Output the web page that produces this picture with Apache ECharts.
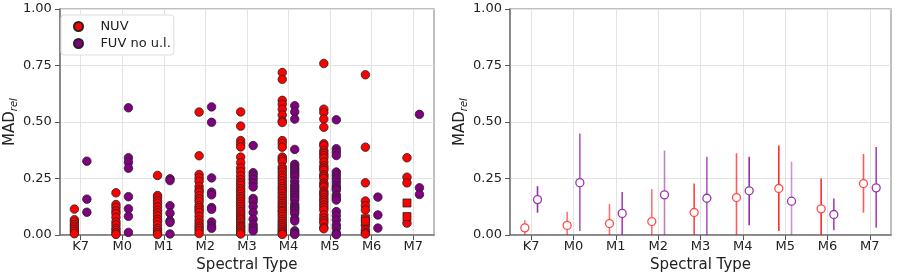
<!DOCTYPE html>
<html>
<head>
<meta charset="utf-8">
<script src="https://cdn.jsdelivr.net/npm/echarts@6/dist/echarts.min.js"></script>
<style>
html,body{margin:0;padding:0;background:#fff;}
#chart{width:900px;height:278px;}
</style>
</head>
<body>
<div id="chart"></div>
<script>
// ---------- DATA ----------
const categories = ['K7','M0','M1','M2','M3','M4','M5','M6','M7'];
const yTicks = [0, 0.25, 0.5, 0.75, 1.0];

// Left panel: individual MAD_rel values per spectral type
const nuv_K7 = [0.115,0.068,0.058,0.047,0.036,0.026,0.016,0.006];
const nuv_M0 = [0.187,0.135,0.122,0.107,0.095,0.078,0.058,0.045,0.03,0.02,0.01,0.003];
const nuv_M1 = [0.264,0.175,0.165,0.152,0.14,0.125,0.11,0.098,0.085,0.07,0.06,0.045,0.03,0.02,0.01,0.003];
const nuv_M2 = [0.544,0.351,0.268,0.253,0.238,0.215,0.2,0.19,0.174,0.16,0.148,0.13,0.121,0.11,0.1,0.083,0.067,0.053,0.04,0.03,0.019,0.007];
const nuv_M3 = [0.545,0.482,0.418,0.404,0.39,0.345,0.32,0.297,0.28,0.262,0.245,0.232,0.22,0.205,0.194,0.182,0.17,0.16,0.148,0.137,0.126,0.115,0.104,0.095,0.085,0.075,0.067,0.056,0.045,0.038,0.031,0.022,0.013,0.005];
const nuv_M4 = [0.719,0.689,0.596,0.579,0.557,0.531,0.505,0.498,0.418,0.405,0.389,0.345,0.335,0.326,0.301,0.29,0.279,0.265,0.253,0.24,0.228,0.215,0.206,0.195,0.184,0.172,0.162,0.15,0.14,0.13,0.121,0.11,0.104,0.093,0.082,0.07,0.06,0.05,0.041,0.032,0.023,0.015,0.009,0.003];
const nuv_M5 = [0.759,0.557,0.542,0.513,0.477,0.404,0.395,0.374,0.363,0.352,0.341,0.323,0.306,0.296,0.287,0.268,0.26,0.25,0.231,0.222,0.213,0.194,0.185,0.177,0.165,0.155,0.145,0.133,0.122,0.111,0.09,0.075,0.064,0.053,0.034,0.028];
const nuv_M6 = [0.709,0.389,0.231,0.151,0.13,0.111,0.041,0.023,0.012,0.005];
const nuv_M7 = [0.342,0.256,0.231,0.053];
// NUV values drawn with square markers
const nuvSq_M6 = [0.072,0.062];
const nuvSq_M7 = [0.142,0.082];

const fuv_K7 = [0.327,0.159,0.101];
const fuv_M0 = [0.563,0.342,0.322,0.296,0.17,0.116,0.083,0.012];
const fuv_M1 = [0.249,0.241,0.13,0.097,0.063,0.056,0.005];
const fuv_M2 = [0.567,0.499,0.253,0.19,0.178,0.122,0.114,0.058,0.04,0.03];
const fuv_M3 = [0.396,0.276,0.262,0.247,0.23,0.213,0.162,0.148,0.126,0.1,0.07,0.045,0.031,0.019];
const fuv_M4 = [0.572,0.545,0.513,0.379,0.313,0.301,0.29,0.279,0.268,0.257,0.238,0.221,0.21,0.199,0.188,0.177,0.166,0.155,0.136,0.125,0.118,0.108,0.096,0.072,0.062,0.019,0.009,0.003];
const fuv_M5 = [0.51,0.382,0.367,0.352,0.279,0.265,0.25,0.235,0.218,0.208,0.199,0.177,0.165,0.155,0.104,0.086,0.067,0.045,0.031,0.009,0.002];
const fuv_M6 = [0.168,0.089,0.031];
const fuv_M7 = [0.534,0.209,0.18];

// Right panel: median and range
const nuvMed = [0.032,0.043,0.051,0.06,0.1,0.166,0.206,0.116,0.228];
const nuvLo  = [0,0,0,0,0,0,0.018,0,0.099];
const nuvHi  = [0.066,0.103,0.137,0.204,0.228,0.362,0.396,0.25,0.359];
const fuvMed = [0.157,0.232,0.096,0.178,0.163,0.196,0.15,0.091,0.209];
const fuvLo  = [0.099,0.018,0,0,0,0.044,0,0.022,0.032];
const fuvHi  = [0.216,0.449,0.191,0.374,0.346,0.347,0.325,0.162,0.39];

// ---------- STYLE ----------
const nuvBarAlpha = [0.6,0.6,0.6,0.6,0.8,0.7,0.9,0.9,0.7];
const fuvBarAlpha = [0.9,0.7,0.8,0.55,0.7,0.9,0.45,0.8,0.8];
const OFF = 0.15;
const FONT = 'DejaVu Sans';

const nuvLists = [nuv_K7,nuv_M0,nuv_M1,nuv_M2,nuv_M3,nuv_M4,nuv_M5,nuv_M6,nuv_M7];
const nuvSqLists = [[],[],[],[],[],[],[],nuvSq_M6,nuvSq_M7];
const fuvLists = [fuv_K7,fuv_M0,fuv_M1,fuv_M2,fuv_M3,fuv_M4,fuv_M5,fuv_M6,fuv_M7];

function flatten(lists, off){
  const out = [];
  lists.forEach((arr,i)=>arr.forEach(v=>out.push([i+off, v])));
  return out;
}

const chart = echarts.init(document.getElementById('chart'), null, {renderer:'canvas'});

function catAxis(gi){
  return {
    type:'category', gridIndex:gi, data:categories, boundaryGap:true,
    axisLine:{show:true, onZero:false, lineStyle:{color:'#777', width:1.5}},
    axisTick:{show:true, alignWithLabel:true, length:5, lineStyle:{color:'#555', width:1}},
    axisLabel:{color:'#222', fontFamily:FONT, fontSize:13, margin:5},
    splitLine:{show:true, alignWithLabel:true, lineStyle:{color:'#e3e3e3', width:1}},
    name:'Spectral Type', nameLocation:'middle', nameGap:22,
    nameTextStyle:{color:'#222', fontFamily:FONT, fontSize:15}
  };
}
function valX(gi){
  return {type:'value', gridIndex:gi, min:-0.5, max:8.5, show:false,
    axisLine:{show:false, onZero:false}, splitLine:{show:false}};
}
function yAx(gi){
  return {
    type:'value', gridIndex:gi, min:yTicks[0], max:yTicks[yTicks.length-1], interval:0.25,
    axisLine:{show:true, onZero:false, lineStyle:{color:'#777', width:1.5}},
    axisTick:{show:true, length:5, lineStyle:{color:'#555', width:1}},
    axisLabel:{color:'#222', fontFamily:FONT, fontSize:13, margin:8, formatter:v=>v.toFixed(2)},
    splitLine:{show:true, lineStyle:{color:'#e3e3e3', width:1}},
    name:'{a|MAD}{b|rel}', nameLocation:'middle', nameGap:36,
    nameTextStyle:{rich:{
      a:{fontFamily:FONT, fontSize:15, color:'#222', lineHeight:20},
      b:{fontFamily:FONT, fontSize:10, fontStyle:'italic', color:'#222', lineHeight:20, padding:[8,0,0,0]}
    }}
  };
}

function errBars(lo, hi, off, rgb, alphas, xi, yi){
  return {
    type:'custom', xAxisIndex:xi, yAxisIndex:yi, z:2,
    data: lo.map((l,i)=>[i+off, l, hi[i]]),
    renderItem:(params, api)=>{
      const i = params.dataIndex;
      const p1 = api.coord([api.value(0), api.value(1)]);
      const p2 = api.coord([api.value(0), api.value(2)]);
      return {type:'line', shape:{x1:p1[0],y1:p1[1],x2:p2[0],y2:p2[1]},
        style:{stroke:'rgba('+rgb+','+alphas[i]+')', lineWidth:1.6}};
    },
    silent:true
  };
}

const option = {
  animation:false,
  backgroundColor:'#fff',
  grid:[
    {left:55, top:9, width:379, height:228, show:true, borderColor:'#aaa', borderWidth:1.5, backgroundColor:'transparent'},
    {left:510, top:9, width:381, height:228, show:true, borderColor:'#aaa', borderWidth:1.5, backgroundColor:'transparent'}
  ],
  xAxis:[catAxis(0), valX(0), catAxis(1), valX(1)],
  yAxis:[yAx(0), yAx(1)],
  legend:{
    left:61, top:15, orient:'vertical',
    data:[{name:'NUV', icon:'circle'},{name:'FUV no u.l.', icon:'circle'}],
    itemWidth:9, itemHeight:9, itemGap:4,
    backgroundColor:'#fff', borderColor:'#ddd', borderWidth:1, borderRadius:3,
    padding:[5,3,5,12],
    formatter: name => '   ' + name,
    textStyle:{fontFamily:FONT, fontSize:13, color:'#222'}
  },
  series:[
    {name:'NUV', type:'scatter', xAxisIndex:1, yAxisIndex:0, symbol:'circle', symbolSize:8.5,
     itemStyle:{color:'#ff0000', borderColor:'#222', borderWidth:0.8, opacity:1},
     data:flatten(nuvLists,-OFF), z:3},
    {name:'NUV', type:'scatter', xAxisIndex:1, yAxisIndex:0, symbol:'rect', symbolSize:8,
     itemStyle:{color:'#ff0000', borderColor:'#222', borderWidth:0.8, opacity:1},
     data:flatten(nuvSqLists,-OFF), z:3},
    {name:'FUV no u.l.', type:'scatter', xAxisIndex:1, yAxisIndex:0, symbol:'circle', symbolSize:8.5,
     itemStyle:{color:'#800080', borderColor:'#222', borderWidth:0.8, opacity:1},
     data:flatten(fuvLists,OFF), z:4},
    errBars(nuvLo, nuvHi, -OFF, '255,20,20', nuvBarAlpha, 3, 1),
    errBars(fuvLo, fuvHi, OFF, '140,20,160', fuvBarAlpha, 3, 1),
    {type:'scatter', xAxisIndex:3, yAxisIndex:1, symbol:'circle', symbolSize:8, z:5,
     itemStyle:{color:'#fff', borderColor:'#ff4a4a', borderWidth:1.3, opacity:1},
     data:nuvMed.map((v,i)=>[i-OFF, v])},
    {type:'scatter', xAxisIndex:3, yAxisIndex:1, symbol:'circle', symbolSize:8, z:5,
     itemStyle:{color:'#fff', borderColor:'#9a35b0', borderWidth:1.3, opacity:1},
     data:fuvMed.map((v,i)=>[i+OFF, v])}
  ]
};
chart.setOption(option);
</script>
</body>
</html>
